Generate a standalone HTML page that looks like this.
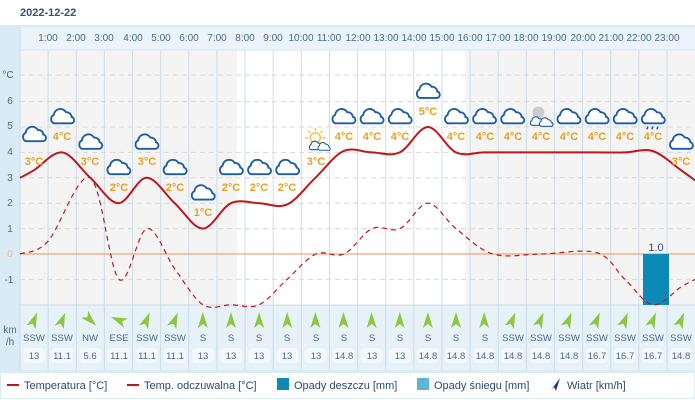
<!DOCTYPE html>
<html><head><meta charset="utf-8"><style>
body{margin:0;width:695px;height:408px;background:#fff;font-family:"Liberation Sans",sans-serif;overflow:hidden}
</style></head><body>
<svg width="695" height="408" xmlns="http://www.w3.org/2000/svg" font-family="Liberation Sans, sans-serif">
<defs>
<symbol id="cl" viewBox="0 0 30 20"><path d="M6,18 a5,5 0 0 1 0,-9 a7,7 0 0 1 13,-3 a5.5,5.5 0 0 1 6,5 a3.6,3.6 0 0 1 0,7 z" fill="#fff" stroke="#1d5ca8" stroke-width="2"/></symbol>
</defs>
<text x="20" y="16" font-size="11" font-weight="bold" fill="#3a5070">2022-12-22</text>
<rect x="0" y="25" width="695" height="347" fill="#d9ecf5"/>
<rect x="20" y="27" width="675" height="23" fill="#eaf4fa"/>
<rect x="20" y="50" width="217" height="255" fill="#f4f4f4"/>
<rect x="237" y="50" width="228" height="255" fill="#fff"/>
<rect x="465" y="50" width="230" height="255" fill="#f4f4f4"/>
<rect x="20" y="305" width="675" height="65" fill="#e6f1f8"/>
<g id="grid"></g>
<line x1="20" y1="254" x2="695" y2="254" stroke="#e8955a" stroke-width="1"/>
<rect x="643" y="254" width="26" height="51" fill="#0b8ab5"/>
<text x="656" y="251" font-size="11" fill="#2b4a6b" text-anchor="middle">1.0</text>
<g font-size="10" fill="#4a6a8a" text-anchor="middle">
<text x="48" y="41">1:00</text><text x="76" y="41">2:00</text><text x="104" y="41">3:00</text><text x="133" y="41">4:00</text><text x="161" y="41">5:00</text><text x="189" y="41">6:00</text><text x="217" y="41">7:00</text><text x="245" y="41">8:00</text><text x="273" y="41">9:00</text><text x="301" y="41">10:00</text><text x="329" y="41">11:00</text><text x="358" y="41">12:00</text><text x="386" y="41">13:00</text><text x="414" y="41">14:00</text><text x="442" y="41">15:00</text><text x="470" y="41">16:00</text><text x="498" y="41">17:00</text><text x="526" y="41">18:00</text><text x="554" y="41">19:00</text><text x="583" y="41">20:00</text><text x="611" y="41">21:00</text><text x="639" y="41">22:00</text><text x="667" y="41">23:00</text>
</g>
<g font-size="10" fill="#4a6a8a" text-anchor="middle">
<text x="8" y="78">°C</text><text x="10" y="104">6</text><text x="10" y="129">5</text><text x="10" y="155">4</text><text x="10" y="181">3</text><text x="10" y="206">2</text><text x="10" y="232">1</text><text x="10" y="257" fill="#e8b890">0</text><text x="9" y="283">-1</text>
<text x="10" y="333">km</text><text x="10" y="345">/h</text>
</g>
<path id="feel" d="" fill="none" stroke="#c0161c" stroke-width="1.2" stroke-dasharray="5,4"/>
<path id="temp" d="" fill="none" stroke="#c0161c" stroke-width="2"/>
<g id="icons"></g>
<g font-size="11" font-weight="bold" fill="#e8a020" text-anchor="middle" id="lbls">
<text x="34" y="165">3°C</text><text x="62" y="140">4°C</text><text x="90" y="165">3°C</text><text x="119" y="191">2°C</text><text x="147" y="165">3°C</text><text x="175" y="191">2°C</text><text x="203" y="216">1°C</text><text x="231" y="191">2°C</text><text x="259" y="191">2°C</text><text x="287" y="191">2°C</text><text x="316" y="165">3°C</text><text x="344" y="140">4°C</text><text x="372" y="140">4°C</text><text x="400" y="140">4°C</text><text x="428" y="115">5°C</text><text x="456" y="140">4°C</text><text x="485" y="140">4°C</text><text x="513" y="140">4°C</text><text x="541" y="140">4°C</text><text x="569" y="140">4°C</text><text x="597" y="140">4°C</text><text x="625" y="140">4°C</text><text x="653" y="140">4°C</text><text x="681" y="165">3°C</text>
</g>
<g id="wind"></g>
<g font-size="9.5" fill="#4a6a8a" text-anchor="middle">
<text x="34" y="341">SSW</text><text x="62" y="341">SSW</text><text x="90" y="341">NW</text><text x="119" y="341">ESE</text><text x="147" y="341">SSW</text><text x="175" y="341">SSW</text><text x="203" y="341">S</text><text x="231" y="341">S</text><text x="259" y="341">S</text><text x="287" y="341">S</text><text x="316" y="341">S</text><text x="344" y="341">S</text><text x="372" y="341">S</text><text x="400" y="341">S</text><text x="428" y="341">S</text><text x="456" y="341">S</text><text x="485" y="341">S</text><text x="513" y="341">SSW</text><text x="541" y="341">SSW</text><text x="569" y="341">SSW</text><text x="597" y="341">SSW</text><text x="625" y="341">SSW</text><text x="653" y="341">SSW</text><text x="681" y="341">SSW</text>
</g>
<g font-size="9.5" fill="#4a6a8a" text-anchor="middle">
<text x="34" y="359">13</text><text x="62" y="359">11.1</text><text x="90" y="359">5.6</text><text x="119" y="359">11.1</text><text x="147" y="359">11.1</text><text x="175" y="359">11.1</text><text x="203" y="359">13</text><text x="231" y="359">13</text><text x="259" y="359">13</text><text x="287" y="359">13</text><text x="316" y="359">13</text><text x="344" y="359">14.8</text><text x="372" y="359">13</text><text x="400" y="359">13</text><text x="428" y="359">14.8</text><text x="456" y="359">14.8</text><text x="485" y="359">14.8</text><text x="513" y="359">14.8</text><text x="541" y="359">14.8</text><text x="569" y="359">14.8</text><text x="597" y="359">16.7</text><text x="625" y="359">16.7</text><text x="653" y="359">16.7</text><text x="681" y="359">14.8</text>
</g>
<rect x="0.5" y="372.5" width="694" height="26" fill="#fff" stroke="#d9ecf5"/>
<g font-size="11" fill="#2b4a6b">
<line x1="7" y1="385" x2="19" y2="385" stroke="#c0161c" stroke-width="2"/><text x="24" y="389">Temperatura [°C]</text>
<line x1="127" y1="385" x2="139" y2="385" stroke="#c0161c" stroke-width="2"/><text x="144" y="389">Temp. odczuwalna [°C]</text>
<rect x="277" y="378" width="12" height="12" fill="#0b8ab5"/><text x="294" y="389">Opady deszczu [mm]</text>
<rect x="417" y="378" width="12" height="12" fill="#5bb8d4"/><text x="434" y="389">Opady śniegu [mm]</text>
<polygon points="560,378 556,391 554,387 551,390" fill="#1d3d70"/><text x="567" y="389">Wiatr [km/h]</text>
</g>
</svg>
<script>
var ns="http://www.w3.org/2000/svg";
function el(p,t,a){var e=document.createElementNS(ns,t);for(var k in a)e.setAttribute(k,a[k]);p.appendChild(e);return e;}
var X=function(i){return 20+28.13*(i+0.5)}, Y=function(t){return 254-25.4*t};
var g=document.getElementById('grid');
[6,5,4,3,2,1,-1].forEach(function(t){el(g,'line',{x1:20,x2:695,y1:Y(t),y2:Y(t),stroke:'#d8d8d8','stroke-dasharray':'5,4'})});
el(g,'line',{x1:20,x2:695,y1:75,y2:75,stroke:'#d8d8d8','stroke-dasharray':'5,4'});
for(var h=1;h<24;h++){var x=20+28.13*h;el(g,'line',{x1:x,x2:x,y1:50,y2:305,stroke:'#cfdde8'});el(g,'line',{x1:x,x2:x,y1:305,y2:370,stroke:'#c8dcea'});}
el(g,'line',{x1:20,x2:20,y1:27,y2:370,stroke:'#c8dcea'});
el(g,'line',{x1:20,x2:695,y1:305,y2:305,stroke:'#c8dcea'});
el(g,'line',{x1:20,x2:695,y1:50,y2:50,stroke:'#d8e6f0'});
for(var i=0;i<24;i++){el(g,'rect',{x:X(i)-11,y:348,width:22,height:15,rx:4,fill:'#f3f8fb'});}
function smooth(pts){var d='M'+pts[0][0]+','+pts[0][1];for(var i=0;i<pts.length-1;i++){var p0=pts[i-1]||pts[i],p1=pts[i],p2=pts[i+1],p3=pts[i+2]||p2;var c1=[p1[0]+(p2[0]-p0[0])/6,p1[1]+(p2[1]-p0[1])/6],c2=[p2[0]-(p3[0]-p1[0])/6,p2[1]-(p3[1]-p1[1])/6];d+=' C'+c1+' '+c2+' '+p2;}return d;}
var T=[3.3,4,3,2,3,2,1,2,2,1.95,3,4.05,4,4,5,4,4,4,4,4,4,4,4.05,3.3];
var tp=[[20,Y(3)]];T.forEach(function(t,i){tp.push([X(i),Y(t)])});tp.push([695,Y(2.9)]);
document.getElementById('temp').setAttribute('d',smooth(tp));
var F=[[20,0],[48,0.5],[90,3],[119,-1],[147,1],[175,-0.6],[203,-2],[231,-2],[259,-2],[287,-1],[316,0],[344,0],[372,1],[400,1],[428,2],[456,1],[493,0],[541,0],[597,0.05],[625,-1],[653,-2],[681,-1.3],[695,-1]];
document.getElementById('feel').setAttribute('d',smooth(F.map(function(p){return [p[0],Y(p[1])]})));
var ic=document.getElementById('icons');
T.forEach(function(t,i){var tt=Math.round(t);if(i==0)tt=3.3;
 if(i==10){var cx=X(i),cy=Y(3)-36;
  el(ic,'circle',{cx:cx,cy:cy-4,r:5,fill:'#fff',stroke:'#f5c542','stroke-width':1.5});
  [0,45,90,135,180,-45].forEach(function(a){var r=a*Math.PI/180;el(ic,'line',{x1:cx+Math.cos(r)*7,y1:cy-4-Math.sin(r)*7,x2:cx+Math.cos(r)*10,y2:cy-4-Math.sin(r)*10,stroke:'#f5c542','stroke-width':1.5});});
  el(ic,'use',{href:'#cl',x:cx-8,y:cy-2,width:17,height:11});el(ic,'use',{href:'#cl',x:cx+1,y:cy-1,width:15,height:11});return;}
 if(i==18){var cx=X(i),cy=Y(4)-37;el(ic,'circle',{cx:cx-2,cy:cy-3,r:6,fill:'#ccc'});
  el(ic,'use',{href:'#cl',x:cx-12,y:cy,width:17,height:11});el(ic,'use',{href:'#cl',x:cx-3,y:cy+1,width:17,height:11});return;}
 el(ic,'use',{href:'#cl',x:X(i)-14,y:Y(tt)-46,width:28,height:19});
 if(i==22){[-5,0,5].forEach(function(d){el(ic,'line',{x1:X(i)+d,y1:Y(4)-26,x2:X(i)+d-1,y2:Y(4)-23,stroke:'#1d5ca8','stroke-width':1.5});});}
});
var wg=document.getElementById('wind');
var dir=['SSW','SSW','NW','ESE','SSW','SSW','S','S','S','S','S','S','S','S','S','S','S','SSW','SSW','SSW','SSW','SSW','SSW','SSW'];
var rot={SSW:22.5,S:0,NW:135,ESE:-67.5};
dir.forEach(function(d,i){var u=el(wg,'g',{transform:'translate('+X(i)+',320) rotate('+rot[d]+')'});el(u,'polygon',{points:'0,-8 5,8 0,4 -5,8',fill:'#8dc63f'});});
</script>
</body></html>
